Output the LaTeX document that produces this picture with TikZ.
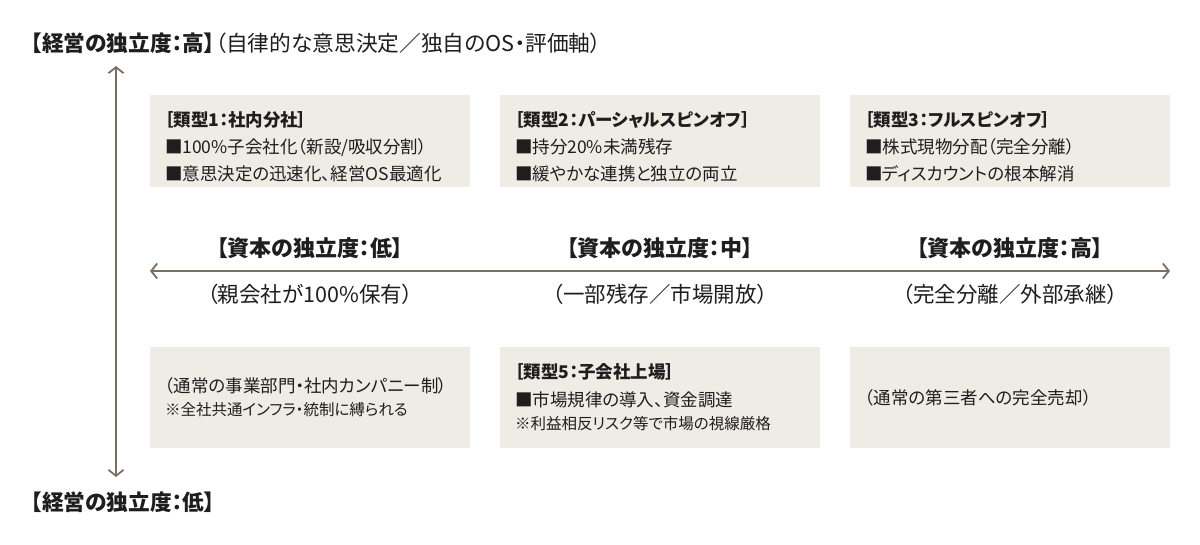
\documentclass[tikz,border=0pt]{standalone}
\usepackage{fontspec}
\setmainfont{Noto Sans CJK JP}[RawFeature=+palt]
\usetikzlibrary{arrows.meta}
\definecolor{axisbrown}{HTML}{7B6F63}
\definecolor{cardfill}{HTML}{EFEBE5}
\definecolor{ink}{HTML}{1E1E1E}
\newcommand\notesize{\fontsize{15.5}{23}\selectfont}
\tikzset{
  card/.style={fill=cardfill, text=ink, minimum width=320pt, text width=290pt, inner xsep=15pt, inner ysep=0pt, align=left, font=\fontsize{17.5}{27}\selectfont},
  cardtop/.style={card, minimum height=92pt, execute at begin node={\rule{0pt}{26pt}}},
  cardlow/.style={card, minimum height=101pt, font=\fontsize{17.5}{28}\selectfont},
  axis/.style={axisbrown, line width=1.8pt, {Straight Barb[length=6pt,width=15pt]}-{Straight Barb[length=6pt,width=15pt]}},
  axislabel/.style={text=ink, inner sep=0pt, font=\fontsize{21.5}{24}\selectfont},
}
\begin{document}
\begin{tikzpicture}[x=1pt, y=-1pt]
  \useasboundingbox[fill=white] (0,0) rectangle (1200,544);

  % management independence (vertical)
  \coordinate (vTop) at (116,66);
  \coordinate (vBot) at (116,477);
  \draw[axis] (vBot) -- (vTop);
  \node[axislabel, anchor=west, font=\fontsize{21.7}{24}\selectfont] (mgmtHigh) at (31,43) {\textbf{【経営の独立度：高】}（自律的な意思決定／独自のOS・評価軸）};
  \node[axislabel, anchor=west, font=\fontsize{21.7}{24}\selectfont] (mgmtLow) at (31,502) {\textbf{【経営の独立度：低】}};

  % upper row
  \node[cardtop] (type1) at (310,141) {\textbf{［類型1：社内分社］}\\■100\%子会社化（新設/吸収分割）\\■意思決定の迅速化、経営OS最適化};
  \node[cardtop] (type2) at (660,141) {\textbf{［類型2：パーシャルスピンオフ］}\\■持分20\%未満残存\\■緩やかな連携と独立の両立};
  \node[cardtop] (type3) at (1010,141) {\textbf{［類型3：フルスピンオフ］}\\■株式現物分配（完全分離）\\■ディスカウントの根本解消};

  % capital independence (horizontal)
  \coordinate (hLeft) at (150,271);
  \coordinate (hRight) at (1170,271);
  \draw[axis] (hLeft) -- (hRight);
  \node[axislabel, font=\fontsize{22}{24}\selectfont] (capLow) at (310,248) {\textbf{【資本の独立度：低】}};
  \node[axislabel, font=\fontsize{22}{24}\selectfont] (capMid) at (660,248) {\textbf{【資本の独立度：中】}};
  \node[axislabel, font=\fontsize{22}{24}\selectfont] (capHigh) at (1010,248) {\textbf{【資本の独立度：高】}};
  \node[axislabel] (capLowSub) at (310,294) {（親会社が100\%保有）};
  \node[axislabel] (capMidSub) at (660,294) {（一部残存／市場開放）};
  \node[axislabel] (capHighSub) at (1010,294) {（完全分離／外部承継）};

  % lower row
  \node[cardlow] (inhouse) at (310,397.5) {（通常の事業部門・社内カンパニー制）\\{\notesize ※全社共通インフラ・統制に縛られる\par}};
  \node[cardlow] (type5) at (660,397.5) {\textbf{［類型5：子会社上場］}\\■市場規律の導入、資金調達\\{\notesize ※利益相反リスク等で市場の視線厳格\par}};
  \node[cardlow] (sale) at (1010,397.5) {（通常の第三者への完全売却）};
\end{tikzpicture}
\end{document}
